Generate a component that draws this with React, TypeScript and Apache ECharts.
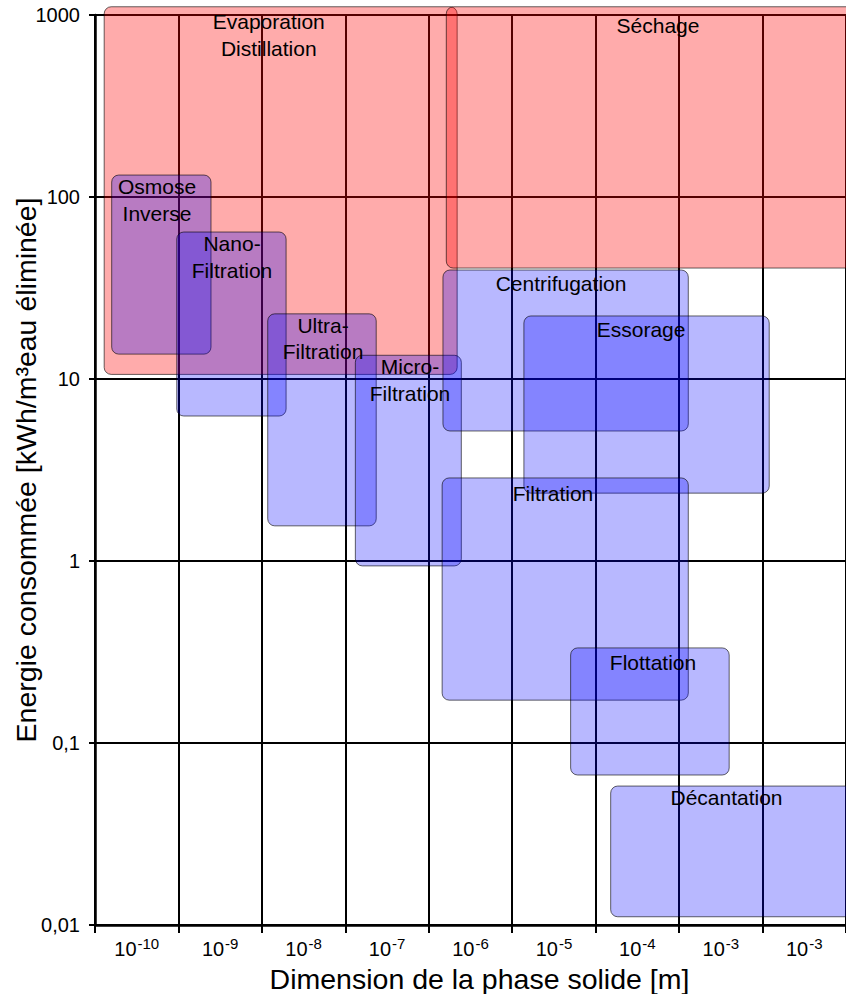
import React, { useEffect, useRef } from "react";
import * as echarts from "echarts";

// X axis: exponents of the size classes (labels shown as 10^exp)
const xExponents = ["-10", "-9", "-8", "-7", "-6", "-5", "-4", "-3", "-3"];
// Y axis tick labels (log scale, 0.01 .. 1000)
const yTickLabels = ["0,01", "0,1", "1", "10", "100", "1000"];

// Process boxes: x in class units (0..9 along the size axis), y in kWh/m3
const boxNames = [
  "Evaporation Distillation",
  "Séchage",
  "Osmose Inverse",
  "Nano-Filtration",
  "Ultra-Filtration",
  "Micro-Filtration",
  "Centrifugation",
  "Essorage",
  "Filtration",
  "Flottation",
  "Décantation",
];
const boxKind = ["thermal", "thermal", "mech", "mech", "mech", "mech", "mech", "mech", "mech", "mech", "mech"];
const boxXStart = [0.11, 4.21, 0.2, 0.98, 2.07, 3.12, 4.17, 5.14, 4.16, 5.7, 6.18];
const boxXEnd = [4.34, 9.2, 1.39, 2.29, 3.37, 4.39, 7.11, 8.08, 7.11, 7.6, 9.2];
const boxYLow = [10.6, 40.7, 13.7, 6.26, 1.56, 0.94, 5.18, 2.36, 0.172, 0.0667, 0.0111];
const boxYHigh = [1110, 1110, 132, 64.2, 22.8, 13.5, 39.7, 22.2, 2.86, 0.333, 0.058];

// Labels of the boxes (centre of the text block, in axis units)
const labelTexts = [
  "Evaporation\nDistillation",
  "Séchage",
  "Osmose\nInverse",
  "Nano-\nFiltration",
  "Ultra-\nFiltration",
  "Micro-\nFiltration",
  "Centrifugation",
  "Essorage",
  "Filtration",
  "Flottation",
  "Décantation",
];
const labelX = [2.082, 6.747, 0.743, 1.642, 2.733, 3.775, 5.585, 6.544, 5.489, 6.687, 7.568];
const labelY = [776, 881, 96.3, 46.8, 16.7, 9.88, 33.3, 18.8, 2.36, 0.276, 0.0504];

const FONT = "'Liberation Sans', Arial, Helvetica, sans-serif";

export default function App() {
  const ref = useRef<HTMLDivElement>(null);

  useEffect(() => {
    if (!ref.current) return;
    const chart = echarts.init(ref.current, null, { renderer: "svg" });

    const boxData = boxNames.map((n, i) => ({
      name: n,
      value: [boxXStart[i], boxXEnd[i], boxYLow[i], boxYHigh[i], boxKind[i] === "thermal" ? 0 : 1],
    }));
    const labelData = labelTexts.map((t, i) => ({ name: t, value: [labelX[i], labelY[i], i] }));

    const option: any = {
      animation: false,
      backgroundColor: "#ffffff",
      textStyle: { fontFamily: FONT },
      grid: { left: 95, right: 0, top: 15, bottom: 69, containLabel: false, outerBoundsMode: "none" },
      xAxis: [
        {
          type: "category",
          data: xExponents,
          boundaryGap: true,
          name: "Dimension de la phase solide [m]",
          nameLocation: "middle",
          nameGap: 39,
          nameMoveOverlap: false,
          nameTextStyle: { fontSize: 28.5, color: "#000", fontFamily: FONT, padding: [0, 0, 0, 18] },
          axisLine: { show: true, lineStyle: { color: "#000", width: 2.5 } },
          axisTick: { show: true, length: 8, interval: 0, lineStyle: { color: "#000", width: 2 } },
          splitLine: { show: true, interval: 0, lineStyle: { color: "#000", width: 2 } },
          axisLabel: {
            interval: 0,
            margin: 11,
            color: "#000",
            fontSize: 20,
            fontFamily: FONT,
            hideOverlap: false,
            formatter: (v: string) => `{base|10}{sup|${v}}`,
            rich: {
              base: { fontSize: 20, fontFamily: FONT, color: "#000", lineHeight: 23, verticalAlign: "bottom" },
              sup: { fontSize: 15, fontFamily: FONT, color: "#000", lineHeight: 8, verticalAlign: "top", padding: [0, 0, 0, 1] },
            },
          },
        },
        { type: "value", min: 0, max: 9, show: false },
      ],
      yAxis: {
        type: "log",
        logBase: 10,
        min: 0.01,
        max: 1000,
        name: "Energie consommée [kWh/m³eau éliminée]",
        nameLocation: "middle",
        nameGap: 55,
        nameMoveOverlap: false,
        nameTextStyle: { fontSize: 28.5, color: "#000", fontFamily: FONT },
        axisLine: { show: true, lineStyle: { color: "#000", width: 2.5 } },
        axisTick: { show: true, length: 6, lineStyle: { color: "#000", width: 2 } },
        splitLine: { show: true, lineStyle: { color: "#000", width: 2 } },
        axisLabel: {
          margin: 15,
          fontSize: 20,
          color: "#000",
          fontFamily: FONT,
          formatter: (v: number) => {
            const idx = Math.round(Math.log10(v)) + 2;
            return yTickLabels[idx] ?? "";
          },
        },
      },
      series: [
        {
          type: "custom",
          xAxisIndex: 1,
          yAxisIndex: 0,
          z: 2,
          encode: { x: [0, 1], y: [2, 3] },
          data: boxData,
          renderItem: (params: any, api: any) => {
            const tl = api.coord([api.value(0), api.value(3)]);
            const br = api.coord([api.value(1), api.value(2)]);
            const thermal = api.value(4) === 0;
            return {
              type: "rect",
              shape: { x: tl[0], y: tl[1], width: br[0] - tl[0], height: br[1] - tl[1], r: 7 },
              style: {
                fill: thermal ? "rgba(255,0,0,0.33)" : "rgba(0,0,255,0.28)",
                stroke: "rgba(0,0,0,0.6)",
                lineWidth: 1,
              },
            };
          },
        },
        {
          type: "custom",
          xAxisIndex: 1,
          yAxisIndex: 0,
          z: 5,
          encode: { x: 0, y: 1 },
          data: labelData,
          renderItem: (params: any, api: any) => {
            const p = api.coord([api.value(0), api.value(1)]);
            const idx = api.value(2);
            return {
              type: "text",
              x: p[0],
              y: p[1],
              style: {
                text: labelTexts[idx],
                fontSize: 21,
                fontFamily: FONT,
                lineHeight: 26.5,
                fill: "#000",
                align: "center",
                verticalAlign: "middle",
              },
            };
          },
        },
      ],
    };

    chart.setOption(option);
    return () => chart.dispose();
  }, []);

  return (
    <div
      ref={ref}
      style={{ position: "absolute", left: 0, top: 0, width: 846, height: 994 }}
    />
  );
}
